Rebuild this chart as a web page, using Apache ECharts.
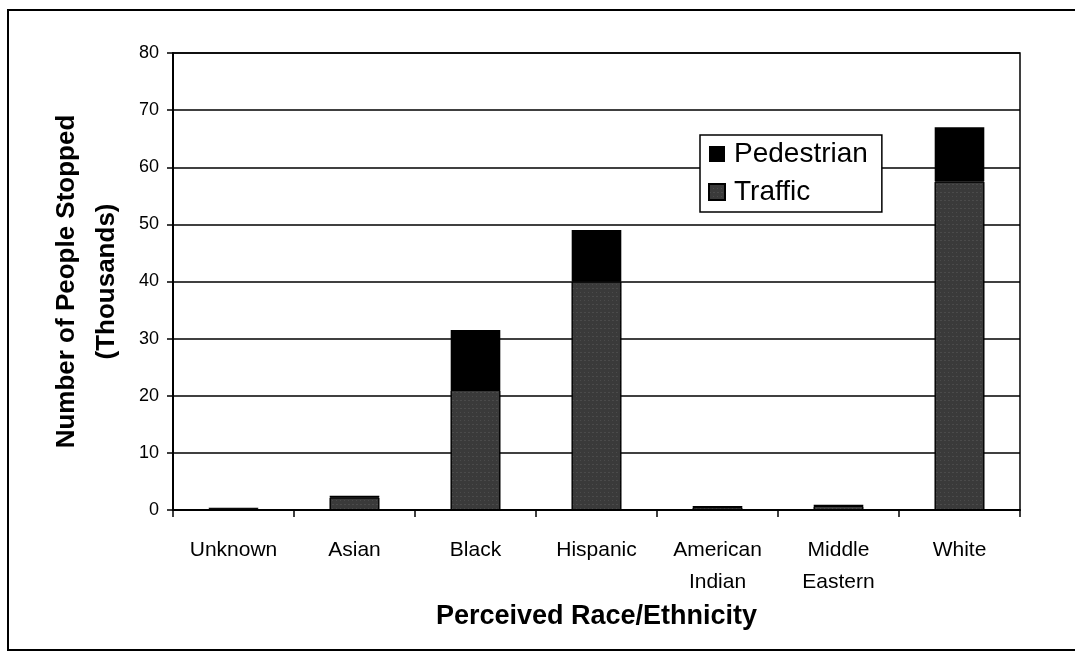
<!DOCTYPE html>
<html>
<head>
<meta charset="utf-8">
<script src="https://cdn.jsdelivr.net/npm/echarts@6/dist/echarts.min.js"></script>
<style>
  html, body { margin: 0; padding: 0; background: #fff; }
  #chart { width: 1075px; height: 667px; }
</style>
</head>
<body>
<div id="chart"></div>
<script>
// stops by perceived race, thousands
const categories = ['Unknown', 'Asian', 'Black', 'Hispanic', 'American\nIndian', 'Middle\nEastern', 'White'];
const traffic = [0.3, 2.2, 21, 40, 0.5, 0.7, 57.5];
const pedestrian = [0.1, 0.3, 10.5, 9, 0.2, 0.2, 9.5];
const yTicks = [0, 10, 20, 30, 40, 50, 60, 70, 80];

const font = 'Liberation Sans, Arial, sans-serif';
const chart = echarts.init(document.getElementById('chart'));

chart.setOption({
  animation: false,
  textStyle: { fontFamily: font, color: '#000' },
  graphic: [{
    type: 'rect',
    shape: { x: 8, y: 10, width: 1080, height: 640 },
    style: { fill: 'none', stroke: '#000', lineWidth: 2 },
    silent: true
  }],
  legend: {
    data: ['Pedestrian', 'Traffic'],
    orient: 'vertical',
    left: 700, top: 135,
    icon: 'rect',
    itemWidth: 16, itemHeight: 16, itemGap: 10,
    padding: [5, 14, 6, 8],
    borderColor: '#000', borderWidth: 1.5,
    backgroundColor: '#fff',
    textStyle: { fontSize: 28, fontFamily: font, color: '#000', padding: [0, 0, 0, 4] }
  },
  grid: { left: 173, right: 55, top: 53, bottom: 157, show: true, borderColor: '#000', borderWidth: 1.5 },
  xAxis: {
    type: 'category',
    data: categories,
    name: 'Perceived Race/Ethnicity',
    nameLocation: 'middle',
    nameGap: 66,
    nameTextStyle: { fontSize: 27, fontWeight: 'bold', fontFamily: font, color: '#000' },
    axisLine: { lineStyle: { color: '#000', width: 2 } },
    axisTick: { show: true, alignWithLabel: false, length: 7, lineStyle: { color: '#000', width: 1.5 } },
    axisLabel: { fontSize: 21, color: '#000', margin: 24, lineHeight: 32, fontFamily: font }
  },
  yAxis: {
    type: 'value',
    min: 0, max: 80, interval: 10,
    name: 'Number of People Stopped\n(Thousands)',
    nameLocation: 'middle',
    nameGap: 46,
    nameTextStyle: { fontSize: 26, fontWeight: 'bold', fontFamily: font, color: '#000', lineHeight: 40 },
    axisLine: { show: true, lineStyle: { color: '#000', width: 2 } },
    axisTick: { show: true, length: 6, lineStyle: { color: '#000', width: 1.5 } },
    axisLabel: {
      fontSize: 18, color: '#000', margin: 14, fontFamily: font,
      formatter: v => yTicks.includes(v) ? String(v) : ''
    },
    splitLine: { lineStyle: { color: '#000', width: 1.5 } }
  },
  series: [
    {
      name: 'Traffic',
      type: 'bar',
      stack: 'stops',
      data: traffic,
      barWidth: '41%',
      itemStyle: {
        color: '#3a3a3a',
        borderColor: '#000',
        borderWidth: 1,
        decal: {
          symbol: 'rect',
          symbolSize: 0.5,
          color: 'rgba(255,255,255,0.35)',
          dashArrayX: [[1, 3], [2, 2]],
          dashArrayY: [1, 3],
          rotation: 0
        }
      }
    },
    {
      name: 'Pedestrian',
      type: 'bar',
      stack: 'stops',
      data: pedestrian,
      barWidth: '41%',
      itemStyle: { color: '#000' }
    }
  ]
});
</script>
</body>
</html>
